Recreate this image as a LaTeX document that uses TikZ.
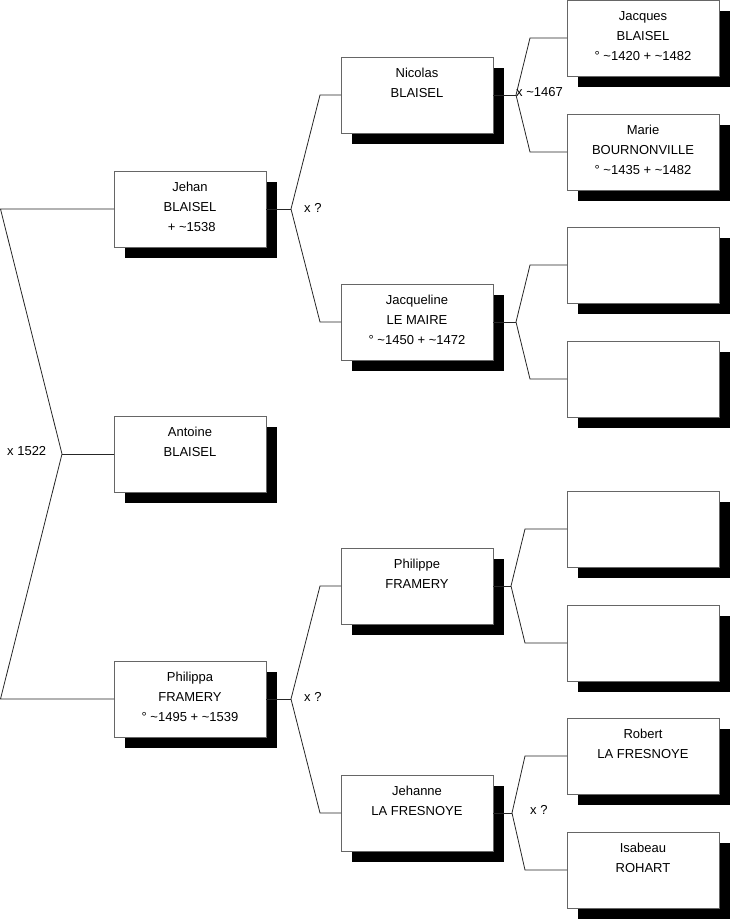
\documentclass[tikz,border=0pt]{standalone}
\usepackage{fontspec}
\setmainfont{Liberation Sans}
\usetikzlibrary{shadows}
\tikzset{
  pbox/.style={draw=black!60, line width=0.8pt, fill=white, anchor=north west,
    minimum width=152pt, minimum height=76pt, inner sep=0pt, outer sep=0pt,
    drop shadow={shadow xshift=11pt, shadow yshift=-11pt, opacity=1, fill=black}},
  ptext/.style={anchor=north, inner sep=0pt, align=center,
    font=\fontsize{13}{20}\selectfont},
  conn/.style={draw=black!85, line width=0.8pt},
  mlabel/.style={inner sep=0pt, font=\fontsize{13}{20}\selectfont}
}
\newcommand\famnode[4]{%
  \node[pbox] (#1) at (#2,#3) {};
  \node[ptext] (#1t) at ([yshift=-6.5pt]#1.north) {\strut #4};
}
\begin{document}
\begin{tikzpicture}[x=1pt,y=-1pt]
\useasboundingbox (0,0) rectangle (731,920);
% column 1
\famnode{jehan}{114}{171}{Jehan\\BLAISEL\\\ + \textasciitilde1538}
\famnode{antoine}{114}{416}{Antoine\\BLAISEL}
\famnode{philippa}{114}{661}{Philippa\\FRAMERY\\° \textasciitilde1495 + \textasciitilde1539}
% column 2
\famnode{nicolas}{341}{57}{Nicolas\\BLAISEL}
\famnode{jacqueline}{341}{284}{Jacqueline\\LE MAIRE\\° \textasciitilde1450 + \textasciitilde1472}
\famnode{philippe}{341}{548}{Philippe\\FRAMERY}
\famnode{jehanne}{341}{775}{Jehanne\\LA FRESNOYE}
% column 3
\famnode{jacques}{567}{0}{Jacques\\BLAISEL\\° \textasciitilde1420 + \textasciitilde1482}
\famnode{marie}{567}{114}{Marie\\BOURNONVILLE\\° \textasciitilde1435 + \textasciitilde1482}
\node[pbox] (e1) at (567,227) {};
\node[pbox] (e2) at (567,341) {};
\node[pbox] (e3) at (567,491) {};
\node[pbox] (e4) at (567,605) {};
\famnode{robert}{567}{718}{Robert\\LA FRESNOYE}
\famnode{isabeau}{567}{832}{Isabeau\\ROHART}
% fork coordinates
\coordinate (a1) at (0.5,0 |- jehan.west);
\coordinate (a2) at (0.5,0 |- philippa.west);
\coordinate (v0) at (62,0 |- antoine.west);
\coordinate (v1) at (291,0 |- jehan.east);
\coordinate (b1u) at (320,0 |- nicolas.west);
\coordinate (b1d) at (320,0 |- jacqueline.west);
\coordinate (v2) at (291,0 |- philippa.east);
\coordinate (b2u) at (320,0 |- philippe.west);
\coordinate (b2d) at (320,0 |- jehanne.west);
\coordinate (v3) at (516,0 |- nicolas.east);
\coordinate (b3u) at (530,0 |- jacques.west);
\coordinate (b3d) at (530,0 |- marie.west);
\coordinate (v4) at (516,0 |- jacqueline.east);
\coordinate (b4u) at (530,0 |- e1.west);
\coordinate (b4d) at (530,0 |- e2.west);
\coordinate (v5) at (511,0 |- philippe.east);
\coordinate (b5u) at (525,0 |- e3.west);
\coordinate (b5d) at (525,0 |- e4.west);
\coordinate (v6) at (512,0 |- jehanne.east);
\coordinate (b6u) at (525,0 |- robert.west);
\coordinate (b6d) at (525,0 |- isabeau.west);
% connectors
\draw[conn] (jehan.west) -- (a1) -- (v0) -- (a2) -- (philippa.west);
\draw[conn] (v0) -- (antoine.west);
\draw[conn] (jehan.east) -- (v1);
\draw[conn] (nicolas.west) -- (b1u) -- (v1) -- (b1d) -- (jacqueline.west);
\draw[conn] (philippa.east) -- (v2);
\draw[conn] (philippe.west) -- (b2u) -- (v2) -- (b2d) -- (jehanne.west);
\draw[conn] (nicolas.east) -- (v3);
\draw[conn] (jacques.west) -- (b3u) -- (v3) -- (b3d) -- (marie.west);
\draw[conn] (jacqueline.east) -- (v4);
\draw[conn] (e1.west) -- (b4u) -- (v4) -- (b4d) -- (e2.west);
\draw[conn] (philippe.east) -- (v5);
\draw[conn] (e3.west) -- (b5u) -- (v5) -- (b5d) -- (e4.west);
\draw[conn] (jehanne.east) -- (v6);
\draw[conn] (robert.west) -- (b6u) -- (v6) -- (b6d) -- (isabeau.west);
% marriage labels
\node[mlabel, anchor=west] (m0) at (7,451.5) {x 1522};
\node[mlabel, anchor=west] (m1) at (304,207.5) {x ?};
\node[mlabel, anchor=west] (m2) at (304,697) {x ?};
\node[mlabel, anchor=west] (m3) at (516,92.5) {x \textasciitilde1467};
\node[mlabel, anchor=west] (m4) at (530,810) {x ?};
\end{tikzpicture}
\end{document}
